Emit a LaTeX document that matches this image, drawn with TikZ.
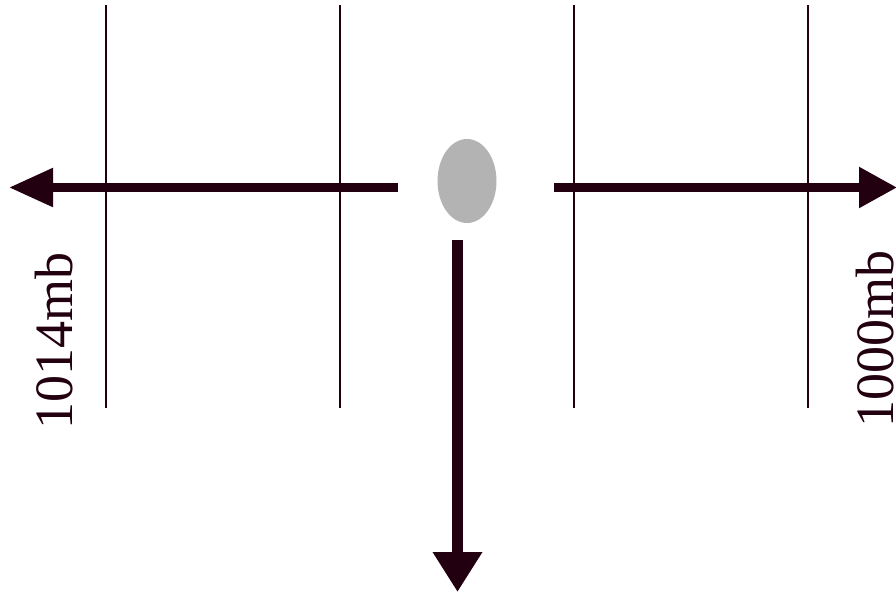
\documentclass[tikz,border=0pt]{standalone}
\usepackage{fontspec}
\setmainfont{Liberation Serif}
\usetikzlibrary{arrows.meta,shapes.geometric}
\definecolor{ink}{RGB}{35,0,16}
\definecolor{blob}{RGB}{179,179,179}
\tikzset{
  isobar/.style={draw=ink, line width=2.4pt},
  windarrow/.style={draw=ink, line width=8.5pt},
  label/.style={text=ink, font=\fontsize{54}{60}\selectfont, rotate=90, anchor=base west, inner sep=0pt, text depth=0pt}
}
\begin{document}
\begin{tikzpicture}[x=1pt,y=-1pt]
\useasboundingbox (0,0) rectangle (896,594);
% isobars
\foreach \x in {106,340,574,808} {
  \draw[isobar] (\x,5) -- (\x,408);
}
% low-pressure parcel
\node[ellipse, fill=blob, minimum width=59pt, minimum height=84pt, inner sep=0pt] (parcel) at (467,181) {};
% arrows
\coordinate (lstart) at (398,187.5);
\coordinate (ltip) at (9,187.5);
\coordinate (rstart) at (554,187.5);
\coordinate (rtip) at (897,187.5);
\coordinate (dstart) at (457.5,240);
\coordinate (dtip) at (457.5,592);
\draw[windarrow, -{Triangle[length=44pt,width=37pt]}] (lstart) -- (ltip);
\draw[windarrow, -{Triangle[length=38pt,width=39pt]}] (rstart) -- (rtip);
\draw[windarrow, line width=11pt, -{Triangle[length=40pt,width=47pt]}] (dstart) -- (dtip);
% labels
\node[label] (left) at (72,430) {1014mb};
\node[label] (right) at (893,428) {1000mb};
\end{tikzpicture}
\end{document}
